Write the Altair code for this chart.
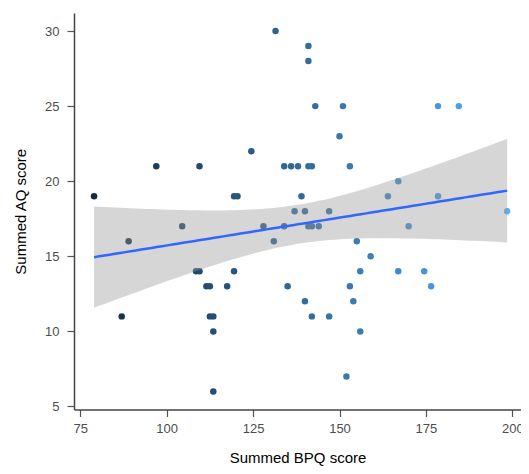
import altair as alt
import numpy as np
import pandas as pd

# Summed BPQ score (x) and Summed AQ score (y)
bpq = [79, 87, 89, 97, 104.5, 108.5, 109.5, 109.5, 111.5, 112.5,
       112.5, 113.5, 113.5, 113.5, 117.5, 119.5, 119.5, 120.5, 124.5, 128,
       131, 131.5, 134, 134, 135, 136, 137, 138, 139, 140,
       140, 141, 141, 141, 141, 142, 142, 142, 143, 144,
       147, 147, 150, 151, 152, 153, 153, 154, 155, 156,
       156, 159, 164, 167, 167, 170, 174.5, 176.5, 178.5, 178.5,
       184.5, 198.5]
aq = [19, 11, 16, 21, 17, 14, 14, 21, 13, 13,
      11, 11, 10, 6, 13, 14, 19, 19, 22, 17,
      16, 30, 17, 21, 13, 21, 18, 21, 19, 12,
      18, 29, 28, 21, 17, 21, 17, 11, 25, 17,
      18, 11, 23, 25, 7, 21, 13, 12, 16, 14,
      10, 15, 19, 20, 14, 17, 14, 13, 25, 19,
      25, 18]

x_ticks = [75, 100, 125, 150, 175, 200]
y_ticks = [5, 10, 15, 20, 25, 30]

df = pd.DataFrame({"BPQ": bpq, "AQ": aq})

# linear model fit with 95% confidence band (like geom_smooth(method="lm"))
xa = np.array(bpq, dtype=float)
ya = np.array(aq, dtype=float)
n = len(xa)
b1, b0 = np.polyfit(xa, ya, 1)
resid = ya - (b0 + b1 * xa)
s = np.sqrt(np.sum(resid ** 2) / (n - 2))
xbar = xa.mean()
sxx = np.sum((xa - xbar) ** 2)
t975 = 2.0003
grid = np.linspace(xa.min(), xa.max(), 80)
fit = b0 + b1 * grid
se = s * np.sqrt(1.0 / n + (grid - xbar) ** 2 / sxx)
band = pd.DataFrame({"BPQ": grid, "fit": fit, "lo": fit - t975 * se, "hi": fit + t975 * se})

font = "Liberation Sans"
xs = alt.Scale(domain=[73.2, 202.5], nice=False, zero=False)
ys = alt.Scale(domain=[4.8, 31.2], nice=False, zero=False)

xaxis = alt.Axis(values=x_ticks, grid=False, domainColor="#444444", domainWidth=1.5,
                 tickColor="#555555", tickWidth=1.2, tickSize=7,
                 labelColor="#4D4D4D", labelFontSize=13, labelFont=font, labelPadding=6,
                 titleFont=font, titleFontSize=15, titleFontWeight="normal",
                 titleColor="#000000", titlePadding=15, labelFlush=False)
yaxis = alt.Axis(values=y_ticks, grid=False, domainColor="#444444", domainWidth=1.5,
                 tickColor="#555555", tickWidth=1.2, tickSize=7,
                 labelColor="#4D4D4D", labelFontSize=13, labelFont=font, labelPadding=8,
                 titleFont=font, titleFontSize=15, titleFontWeight="normal",
                 titleColor="#000000", titlePadding=16, labelFlush=False)

xt = "Summed BPQ score"
yt = "Summed AQ score"

points = alt.Chart(df).mark_circle(size=42, opacity=1).encode(
    x=alt.X("BPQ:Q", scale=xs, axis=xaxis, title=xt),
    y=alt.Y("AQ:Q", scale=ys, axis=yaxis, title=yt),
    color=alt.Color("BPQ:Q", scale=alt.Scale(range=["#132B43", "#56B1F7"], interpolate="lab"),
                    legend=None),
)

ribbon = alt.Chart(band).mark_area(color="#999999", opacity=0.4).encode(
    x=alt.X("BPQ:Q", scale=xs, title=xt),
    y=alt.Y("lo:Q", scale=ys, title=yt),
    y2="hi:Q",
)

line = alt.Chart(band).mark_line(color="#3366FF", strokeWidth=2.5).encode(
    x=alt.X("BPQ:Q", scale=xs, title=xt),
    y=alt.Y("fit:Q", scale=ys, title=yt),
)

chart = alt.layer(points, ribbon, line).properties(
    width=447, height=396.5,
    autosize=alt.AutoSizeParams(type="none"),
    padding={"left": 66, "top": 5, "right": 0, "bottom": 56.5},
).configure_view(stroke=None)

chart.save("out.html", embed_options={"renderer": "svg", "actions": False})
